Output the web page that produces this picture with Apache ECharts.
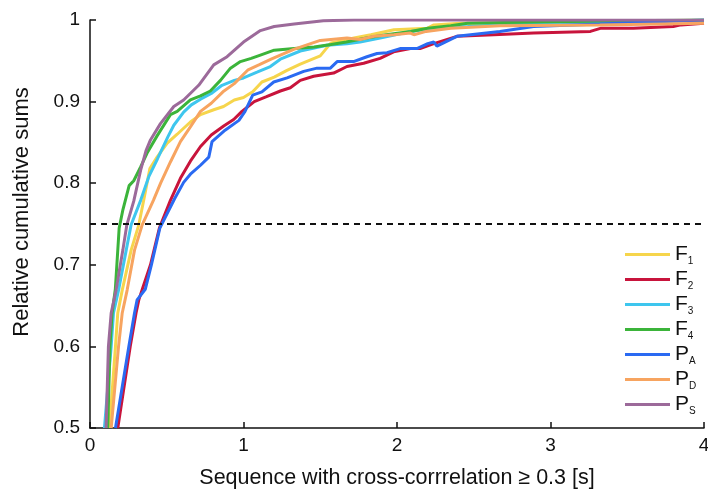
<!DOCTYPE html>
<html>
<head>
<meta charset="utf-8">
<script src="https://cdn.jsdelivr.net/npm/echarts@6/dist/echarts.min.js"></script>
<style>
  html, body { margin: 0; padding: 0; background: #fff; }
  #main { width: 708px; height: 492px; }
</style>
</head>
<body>
<div id="main"></div>
<script>
// values: [time in s, relative cumulative sum]
var seriesNames = ['F1', 'F2', 'F3', 'F4', 'PA', 'PD', 'PS'];
var xTicks = [0, 1, 2, 3, 4];
var yTicks = [0.5, 0.6, 0.7, 0.8, 0.9, 1];
var threshold = 0.75;

var f1 = [[0.127,0.5],[0.166,0.6],[0.181,0.641],[0.21,0.669],[0.268,0.718],[0.318,0.749],[0.355,0.784],
  [0.39,0.818],[0.437,0.832],[0.503,0.849],[0.568,0.86],[0.654,0.875],[0.72,0.884],[0.806,0.89],[0.87,0.894],
  [0.94,0.902],[1.0,0.905],[1.06,0.912],[1.12,0.924],[1.2,0.93],[1.28,0.938],[1.37,0.946],[1.5,0.956],
  [1.57,0.972],[1.65,0.975],[1.72,0.978],[1.83,0.982],[1.98,0.988],[2.2,0.99],[2.24,0.994],[2.41,0.996],
  [3.3,0.998],[4.0,1.0]];
var f2 = [[0.181,0.5],[0.262,0.6],[0.30,0.641],[0.318,0.657],[0.344,0.672],[0.394,0.7],[0.452,0.745],
  [0.524,0.779],[0.589,0.806],[0.654,0.827],[0.72,0.845],[0.79,0.859],[0.871,0.87],[0.936,0.878],[0.99,0.888],
  [1.07,0.9],[1.15,0.906],[1.24,0.913],[1.305,0.917],[1.37,0.926],[1.457,0.931],[1.587,0.935],[1.674,0.943],
  [1.783,0.947],[1.89,0.953],[1.978,0.961],[2.087,0.965],[2.15,0.965],[2.24,0.971],[2.39,0.98],[2.63,0.982],
  [2.89,0.984],[3.26,0.986],[3.33,0.99],[3.54,0.99],[3.8,0.992],[3.85,0.994],[4.0,0.996]];
var f3 = [[0.094,0.5],[0.138,0.6],[0.153,0.641],[0.186,0.669],[0.236,0.718],[0.268,0.749],[0.33,0.779],
  [0.383,0.808],[0.44,0.83],[0.508,0.857],[0.546,0.871],[0.61,0.887],[0.66,0.896],[0.72,0.903],[0.79,0.91],
  [0.86,0.92],[0.94,0.926],[1.0,0.929],[1.088,0.936],[1.175,0.943],[1.24,0.952],[1.37,0.962],[1.544,0.969],
  [1.674,0.971],[1.76,0.973],[1.89,0.978],[2.09,0.986],[2.24,0.99],[2.46,0.992],[2.67,0.994],[2.89,0.995],
  [3.32,0.997],[4.0,1.0]];
var f4 = [[0.116,0.5],[0.13,0.6],[0.144,0.641],[0.165,0.67],[0.19,0.745],[0.215,0.768],[0.255,0.797],
  [0.285,0.803],[0.33,0.82],[0.372,0.837],[0.437,0.858],[0.524,0.884],[0.568,0.888],[0.654,0.902],
  [0.72,0.907],[0.784,0.913],[0.85,0.926],[0.915,0.941],[0.98,0.949],[1.05,0.953],[1.11,0.957],[1.2,0.963],
  [1.33,0.965],[1.46,0.967],[1.57,0.97],[1.67,0.973],[1.8,0.978],[1.93,0.982],[2.09,0.986],[2.2,0.99],
  [2.35,0.993],[2.46,0.996],[2.7,0.997],[3.0,0.998],[3.5,0.999],[4.0,1.0]];
var pa = [[0.166,0.5],[0.253,0.6],[0.29,0.641],[0.307,0.657],[0.36,0.67],[0.40,0.70],[0.455,0.745],
  [0.551,0.781],[0.61,0.801],[0.654,0.811],[0.72,0.822],[0.774,0.832],[0.795,0.851],[0.88,0.865],
  [0.97,0.877],[1.01,0.888],[1.06,0.908],[1.12,0.912],[1.197,0.924],[1.284,0.929],[1.392,0.937],
  [1.479,0.941],[1.566,0.941],[1.61,0.949],[1.717,0.949],[1.804,0.955],[1.87,0.959],[1.935,0.96],
  [2.02,0.965],[2.13,0.965],[2.2,0.971],[2.24,0.973],[2.26,0.968],[2.39,0.98],[2.67,0.986],[2.89,0.992],
  [3.32,0.995],[4.0,1.0]];
var pd = [[0.138,0.5],[0.186,0.6],[0.21,0.641],[0.242,0.669],[0.29,0.718],[0.34,0.749],[0.413,0.779],
  [0.46,0.8],[0.524,0.826],[0.589,0.851],[0.654,0.869],[0.72,0.888],[0.79,0.898],[0.866,0.912],[0.94,0.922],
  [1.03,0.939],[1.1,0.945],[1.18,0.952],[1.24,0.957],[1.327,0.964],[1.5,0.975],[1.674,0.978],[1.76,0.976],
  [1.85,0.98],[1.98,0.982],[2.087,0.984],[2.11,0.982],[2.19,0.986],[2.35,0.99],[2.67,0.993],[3.32,0.994],
  [4.0,0.996]];
var ps = [[0.105,0.5],[0.12,0.6],[0.138,0.641],[0.17,0.669],[0.214,0.718],[0.24,0.749],[0.285,0.778],
  [0.33,0.816],[0.365,0.84],[0.394,0.853],[0.459,0.873],[0.546,0.894],[0.61,0.902],[0.708,0.92],
  [0.806,0.945],[0.893,0.955],[1.0,0.973],[1.11,0.987],[1.2,0.992],[1.33,0.995],[1.52,0.999],[1.72,1.0],
  [4.0,1.0]];

var allData = [f1, f2, f3, f4, pa, pd, ps];
var colors = ['#f6d54c', '#c8143c', '#3ec6ee', '#3bb43a', '#2a6af2', '#f7a460', '#9c6a9a'];
var fontFamily = '"Liberation Sans", Arial, sans-serif';

var myChart = echarts.init(document.getElementById('main'));

var series = [];
for (var i = 0; i < seriesNames.length; i++) {
    series.push({
        name: seriesNames[i],
        type: 'line',
        data: allData[i],
        showSymbol: false,
        symbol: 'none',
        color: colors[i],
        lineStyle: { width: 3, color: colors[i] },
        animation: false
    });
}
// horizontal dashed threshold line
series[0].markLine = {
    silent: true,
    symbol: 'none',
    label: { show: false },
    lineStyle: { color: '#111', type: [6, 5], width: 2 },
    data: [{ yAxis: threshold }],
    animation: false
};

var option = {
    backgroundColor: '#fff',
    grid: { left: 90, right: 4, top: 20, bottom: 64, outerBoundsMode: 'none' },
    legend: {
        orient: 'vertical',
        left: 625,
        top: 244,
        padding: 0,
        icon: 'rect',
        itemWidth: 45,
        itemHeight: 3,
        itemGap: 2.5,
        data: seriesNames,
        formatter: function (n) {
            return '{m|' + n[0] + '}{s|' + n.slice(1) + '}';
        },
        textStyle: {
            fontFamily: fontFamily,
            rich: {
                m: { fontSize: 21, color: '#111', fontFamily: fontFamily, lineHeight: 24 },
                s: { fontSize: 10, color: '#111', fontFamily: fontFamily, lineHeight: 24, verticalAlign: 'bottom', padding: [11, 0, 0, 0] }
            }
        }
    },
    xAxis: {
        type: 'value',
        min: xTicks[0],
        max: xTicks[xTicks.length - 1],
        interval: 1,
        name: 'Sequence with cross-corrrelation \u2265 0.3 [s]',
        nameLocation: 'middle',
        nameGap: 39,
        nameTextStyle: { fontSize: 21.5, color: '#111', fontFamily: fontFamily },
        splitLine: { show: false },
        axisLine: { lineStyle: { color: '#111', width: 1.5 } },
        axisTick: { inside: true, length: 6, lineStyle: { color: '#111', width: 1.5 } },
        axisLabel: { fontSize: 19, color: '#111', fontFamily: fontFamily, margin: 8 }
    },
    yAxis: {
        type: 'value',
        min: yTicks[0],
        max: yTicks[yTicks.length - 1],
        interval: 0.1,
        name: 'Relative cumulative sums',
        nameLocation: 'middle',
        nameGap: 57,
        nameTextStyle: { fontSize: 22, color: '#111', fontFamily: fontFamily, padding: [0, 0, 0, 24] },
        splitLine: { show: false },
        axisLine: { show: true, lineStyle: { color: '#111', width: 1.5 } },
        axisTick: { show: true, inside: true, length: 6, lineStyle: { color: '#111', width: 1.5 } },
        axisLabel: { fontSize: 19, color: '#111', fontFamily: fontFamily, margin: 10 }
    },
    series: series
};

myChart.setOption(option);
</script>
</body>
</html>
